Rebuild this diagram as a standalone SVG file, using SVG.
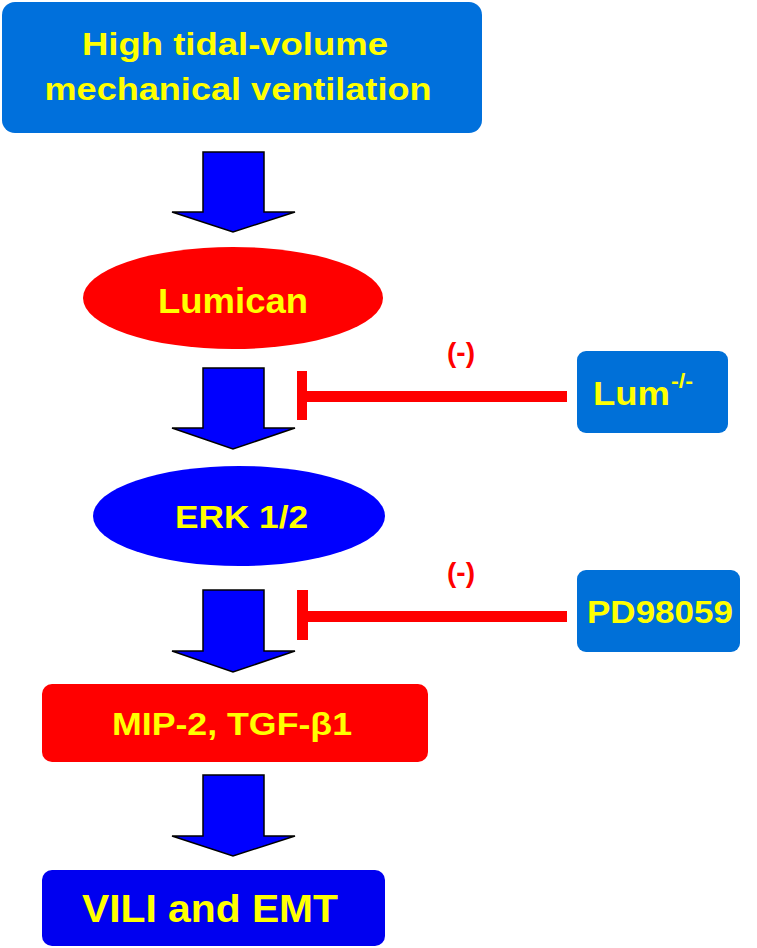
<svg xmlns="http://www.w3.org/2000/svg" width="757" height="948" viewBox="0 0 757 948">
<style>
.t{font-family:"Liberation Sans",Arial,sans-serif;font-weight:bold;fill:#FFFF00;}
.arrow{fill:#0000FF;stroke:#000;stroke-width:1.5;stroke-linejoin:miter;}
.inh{fill:#FF0000;}
.neg{font-family:"Liberation Sans",Arial,sans-serif;font-weight:bold;fill:#FF0000;font-size:28px;text-anchor:middle;}
</style>
<rect width="757" height="948" fill="#fff"/>
<g id="n-hvtv">
<rect x="2" y="2" width="480" height="131" rx="13" fill="#0070DC"/>
<text class="t" x="235" y="55" font-size="31" text-anchor="middle" textLength="306" lengthAdjust="spacingAndGlyphs">High tidal-volume</text>
<text class="t" x="238" y="100" font-size="31" text-anchor="middle" textLength="387" lengthAdjust="spacingAndGlyphs">mechanical ventilation</text>
</g>
<g id="n-lumican">
<ellipse cx="233" cy="298" rx="150" ry="51" fill="#FF0000"/>
<text class="t" x="233" y="313" font-size="35" text-anchor="middle" textLength="150" lengthAdjust="spacingAndGlyphs">Lumican</text>
</g>
<g id="n-erk">
<ellipse cx="239" cy="516" rx="146" ry="50" fill="#0000FF"/>
<text class="t" x="241.5" y="528" font-size="32" text-anchor="middle" textLength="133" lengthAdjust="spacingAndGlyphs">ERK 1/2</text>
</g>
<g id="n-mip">
<rect x="42" y="684" width="386" height="78" rx="10" fill="#FF0000"/>
<text class="t" x="232" y="735" font-size="31" text-anchor="middle" textLength="240" lengthAdjust="spacingAndGlyphs">MIP-2, TGF-β1</text>
</g>
<g id="n-vili">
<rect x="42" y="870" width="343" height="76" rx="10" fill="#0000F0"/>
<text class="t" x="210" y="922" font-size="38" text-anchor="middle" textLength="256" lengthAdjust="spacingAndGlyphs">VILI and EMT</text>
</g>
<g id="n-lum">
<rect x="577" y="351" width="151" height="82" rx="9" fill="#0070D8"/>
<text class="t" x="593" y="405" font-size="34" textLength="77" lengthAdjust="spacingAndGlyphs">Lum</text>
<text class="t" x="671" y="388" font-size="20" textLength="22" lengthAdjust="spacingAndGlyphs">-/-</text>
</g>
<g id="n-pd">
<rect x="577" y="570" width="163" height="82" rx="9" fill="#0070D8"/>
<text class="t" x="587" y="623" font-size="32" textLength="146" lengthAdjust="spacingAndGlyphs">PD98059</text>
</g>
<g id="connectors">
<polygon class="arrow" points="203,152 264,152 264,212 295,212 233,232 172,212 203,212"/>
<polygon class="arrow" points="203,368 264,368 264,428 295,428 233,449 172,428 203,428"/>
<polygon class="arrow" points="203,590 264,590 264,651 295,651 233,672 172,651 203,651"/>
<polygon class="arrow" points="203,775 264,775 264,836 295,836 233,856 172,836 203,836"/>
<rect class="inh" x="297" y="371" width="10" height="49"/>
<rect class="inh" x="307" y="391" width="260" height="11"/>
<rect class="inh" x="297" y="590" width="11" height="50"/>
<rect class="inh" x="308" y="611" width="259" height="11"/>
<text class="neg" x="461" y="362">(-)</text>
<text class="neg" x="461" y="582">(-)</text>
</g>
</svg>
